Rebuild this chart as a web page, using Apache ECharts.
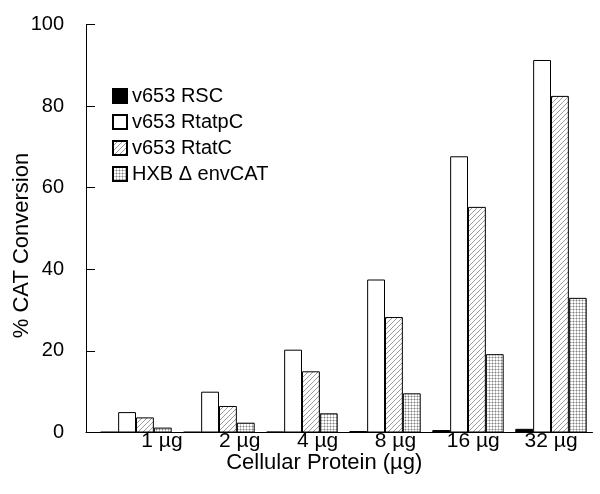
<!DOCTYPE html>
<html>
<head>
<meta charset="utf-8">
<script src="https://cdn.jsdelivr.net/npm/echarts@6/dist/echarts.min.js"></script>
<style>
	html, body { margin: 0; padding: 0; background: #fff; }
	#chart1 { width: 600px; height: 494px; }
</style>
</head>
<body>
<div id="chart1"></div>
<script>
var categories = ['1 µg', '2 µg', '4 µg', '8 µg', '16 µg', '32 µg'];
var seriesNames = ['v653 RSC', 'v653 RtatpC', 'v653 RtatC', 'HXB Δ envCAT'];
var rscValues = [0.15, 0.15, 0.2, 0.35, 0.6, 0.9];
var rtatpcValues = [5, 10, 20.3, 37.5, 67.7, 91.3];
var rtatcValues = [3.7, 6.5, 15, 28.3, 55.3, 82.5];
var hxbValues = [1.2, 2.4, 4.7, 9.6, 19.2, 33];
var yMin = 0, yMax = 100, yStep = 20;

//斜线填充
function hatchPattern() {
	var c = document.createElement('canvas');
	c.width = 5;
	c.height = 5;
	var ctx = c.getContext('2d');
	ctx.fillStyle = '#fff';
	ctx.fillRect(0, 0, 5, 5);
	ctx.fillStyle = '#9a9a9a';
	for(var i = 0; i < 5; i++) {
		ctx.fillRect(i, 4 - i, 1, 1);
	}
	return c;
}

//网点填充
function dotPattern() {
	var c = document.createElement('canvas');
	c.width = 3;
	c.height = 3;
	var ctx = c.getContext('2d');
	ctx.fillStyle = '#fff';
	ctx.fillRect(0, 0, 3, 3);
	ctx.fillStyle = '#c6c6c6';
	ctx.fillRect(0, 0, 3, 1);
	ctx.fillRect(0, 0, 1, 3);
	ctx.fillStyle = '#808080';
	ctx.fillRect(0, 0, 1, 1);
	return c;
}

function chart1() {
	var myChart = echarts.init(document.getElementById('chart1'));
	var font = 'Liberation Sans, Arial, Helvetica, sans-serif';
	var fills = ['#000', '#fff', {image: hatchPattern(), repeat: 'repeat'}, {image: dotPattern(), repeat: 'repeat'}];
	var values = [rscValues, rtatpcValues, rtatcValues, hxbValues];

	var series = [];
	for(var i = 0; i < seriesNames.length; i++) {
		series.push({
			name: seriesNames[i],
			type: 'bar',
			xAxisIndex: 0,
			yAxisIndex: 0,
			barGap: '0%',
			barCategoryGap: '14%',
			itemStyle: {
				color: fills[i],
				borderColor: '#000',
				borderWidth: 1
			},
			data: values[i]
		});
	}

	var option = {
		animation: false,
		textStyle: {
			fontFamily: font,
			color: '#000'
		},
		legend: {
			orient: 'vertical',
			left: 112,
			top: 86,
			padding: 0,
			itemWidth: 14,
			itemHeight: 14,
			itemGap: 6,
			icon: 'rect',
			textStyle: {
				fontSize: 20,
				color: '#000',
				fontFamily: font
			},
			data: seriesNames
		},
		grid: [
			{left: 94.5, right: 7.5, top: 24.5, bottom: 61.5, outerBoundsMode: 'none'},
			{left: 86, right: 7.5, top: 24.5, bottom: 61.5, outerBoundsMode: 'none'},
			{left: 123, right: 10, top: 24.5, bottom: 61.5, outerBoundsMode: 'none'}
		],
		xAxis: [{
			type: 'category',
			gridIndex: 0,
			data: categories,
			axisLine: {show: false},
			axisTick: {show: false},
			axisLabel: {show: false}
		}, {
			type: 'category',
			gridIndex: 1,
			data: categories,
			axisLine: {lineStyle: {color: '#000', width: 1}},
			axisTick: {show: false},
			axisLabel: {show: false},
			name: 'Cellular Protein (µg)',
			nameLocation: 'middle',
			nameGap: 19,
			nameMoveOverlap: false,
			nameTextStyle: {
				fontSize: 22,
				color: '#000',
				fontFamily: font,
				padding: [0, 30, 0, 0]
			}
		}, {
			type: 'category',
			gridIndex: 2,
			data: categories,
			axisLine: {show: false},
			axisTick: {show: false},
			axisLabel: {
				fontSize: 21,
				color: '#000',
				fontFamily: font,
				margin: -2
			}
		}],
		yAxis: [{
			type: 'value',
			gridIndex: 0,
			min: yMin,
			max: yMax,
			interval: yStep,
			show: false
		}, {
			type: 'value',
			gridIndex: 1,
			min: yMin,
			max: yMax,
			interval: yStep,
			axisLine: {show: true, lineStyle: {color: '#000', width: 1}},
			axisTick: {show: true, inside: true, length: 9, lineStyle: {color: '#000'}},
			splitLine: {show: false},
			axisLabel: {
				fontSize: 20,
				color: '#000',
				fontFamily: font,
				margin: 22
			},
			name: '% CAT Conversion',
			nameLocation: 'middle',
			nameGap: 53,
			nameMoveOverlap: false,
			nameTextStyle: {
				fontSize: 22,
				color: '#000',
				fontFamily: font,
				padding: [0, 34, 0, 0]
			}
		}, {
			type: 'value',
			gridIndex: 2,
			min: yMin,
			max: yMax,
			interval: yStep,
			show: false
		}],
		series: series
	};

	myChart.setOption(option);
}

chart1();
</script>
</body>
</html>
